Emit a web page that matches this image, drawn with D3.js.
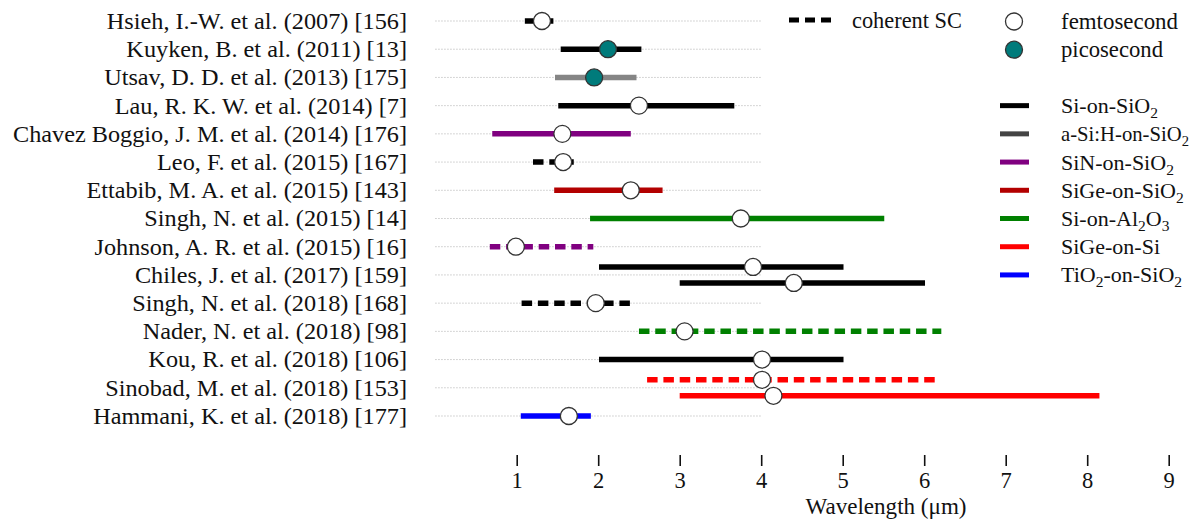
<!DOCTYPE html>
<html><head><meta charset="utf-8">
<script src="https://cdn.jsdelivr.net/npm/d3@7/dist/d3.min.js"></script>
<style>
html,body{margin:0;padding:0;background:#fff;}
svg{display:block;}
text{font-family:"Liberation Serif","DejaVu Serif",serif;fill:#111;}
</style></head>
<body>
<svg id="chart" width="1193" height="520"></svg>
<script>
// ---------------- data ----------------
const refs = [
  "Hsieh, I.-W. et al. (2007) [156]",
  "Kuyken, B. et al. (2011) [13]",
  "Utsav, D. D. et al. (2013) [175]",
  "Lau, R. K. W. et al. (2014) [7]",
  "Chavez Boggio, J. M. et al. (2014) [176]",
  "Leo, F. et al. (2015) [167]",
  "Ettabib, M. A. et al. (2015) [143]",
  "Singh, N. et al. (2015) [14]",
  "Johnson, A. R. et al. (2015) [16]",
  "Chiles, J. et al. (2017) [159]",
  "Singh, N. et al. (2018) [168]",
  "Nader, N. et al. (2018) [98]",
  "Kou, R. et al. (2018) [106]",
  "Sinobad, M. et al. (2018) [153]",
  "Hammani, K. et al. (2018) [177]"
];
// one entry per bar
const barRef      = [0, 1, 2, 3, 4, 5, 6, 7, 8, 9, 9, 10, 11, 12, 13, 13, 14];
const barLane     = [0, 0, 0, 0, 0, 0, 0, 0, 0, -1, 1, 0, 0, 0, -1, 1, 0];
const barStart    = [1.10, 1.54, 1.47, 1.51, 0.70, 1.20, 1.46, 1.90, 0.67, 2.01, 3.00, 1.06, 2.50, 2.01, 2.60, 3.00, 1.05];
const barEnd      = [1.45, 2.53, 2.47, 3.67, 2.40, 1.70, 2.79, 5.51, 1.94, 5.01, 6.01, 2.40, 6.21, 5.01, 6.14, 8.15, 1.91];
const barPump     = [1.31, 2.12, 1.95, 2.50, 1.56, 1.57, 2.40, 3.75, 0.99, 3.90, 4.40, 1.97, 3.06, 4.01, 4.01, 4.15, 1.64];
const barMaterial = ["Si", "Si", "aSi", "Si", "SiN", "Si", "SiGeOx", "SiAl", "SiN", "Si", "Si", "Si", "SiAl", "Si", "SiGeSi", "SiGeSi", "TiO2"];
const barPulse    = ["fs", "ps", "ps", "fs", "fs", "fs", "fs", "fs", "fs", "fs", "fs", "fs", "fs", "fs", "fs", "fs", "fs"];
const barCoherent = [false, false, false, false, false, true, false, false, true, false, false, true, true, false, true, false, false];

const materials     = ["Si", "aSi", "SiN", "SiGeOx", "SiAl", "SiGeSi", "TiO2"];
const materialColor = ["#000000", "#444444", "#800080", "#b30000", "#008000", "#ff0000", "#0000ff"];
const materialBarColor = ["#000000", "#858585", "#800080", "#b30000", "#008000", "#ff0000", "#0000ff"];
// legend labels: alternating normal / subscript parts
const materialLabel = [
  ["Si-on-SiO", "2"],
  ["a-Si:H-on-SiO", "2"],
  ["SiN-on-SiO", "2"],
  ["SiGe-on-SiO", "2"],
  ["Si-on-Al", "2", "O", "3"],
  ["SiGe-on-Si"],
  ["TiO", "2", "-on-SiO", "2"]
];
const xTicks = [1, 2, 3, 4, 5, 6, 7, 8, 9];
const xTitle = "Wavelength (\u03bcm)";
const gridRange = [0, 4];

// ---------------- drawing ----------------
const svg = d3.select("#chart");
const x = d3.scaleLinear().domain([1, 9]).range([516.7, 1168.7]);
const y = d3.scalePoint().domain(d3.range(refs.length)).range([21, 416]);
const laneOff = {"-1": -8, "0": 0, "1": 8};
const col = d3.scaleOrdinal().domain(materials).range(materialBarColor);
const legCol = d3.scaleOrdinal().domain(materials).range(materialColor);
const FS = 22.5;

function fitWidth(sel, k) {
  sel.each(function () {
    const cur = this.getComputedTextLength();
    d3.select(this).attr("textLength", cur * k).attr("lengthAdjust", "spacingAndGlyphs");
  });
}

// labels
const lab = svg.append("g").selectAll("text").data(refs).join("text")
  .attr("x", 407).attr("y", (d, i) => y(i)).attr("dy", "0.35em")
  .attr("text-anchor", "end").attr("font-size", FS).text(d => d);
const kx = 394 / lab.nodes()[4].getComputedTextLength();
fitWidth(lab, kx);

// dotted grid
svg.append("g").selectAll("line").data(refs).join("line")
  .attr("x1", x(gridRange[0])).attr("x2", x(gridRange[1]))
  .attr("y1", (d, i) => y(i)).attr("y2", (d, i) => y(i))
  .attr("stroke", "#c8c8c8").attr("stroke-width", 1).attr("stroke-dasharray", "1.5,1.5");

const idx = d3.range(barRef.length);
const by = i => y(barRef[i]) + laneOff[barLane[i]];
// bars
svg.append("g").selectAll("line").data(idx).join("line")
  .attr("x1", i => x(barStart[i])).attr("x2", i => x(barEnd[i]))
  .attr("y1", by).attr("y2", by)
  .attr("stroke", i => col(barMaterial[i])).attr("stroke-width", 5.5)
  .attr("stroke-dasharray", i => barCoherent[i] ? "10.5,5.8" : null);
// pump points
svg.append("g").selectAll("circle").data(idx).join("circle")
  .attr("cx", i => x(barPump[i])).attr("cy", by).attr("r", 8.5)
  .attr("fill", i => barPulse[i] === "ps" ? "#007b7b" : "#ffffff")
  .attr("stroke", "#333").attr("stroke-width", 1.3);

// axis
const ax = svg.append("g").attr("transform", "translate(0,455)")
  .call(d3.axisBottom(x).tickValues(xTicks).tickSize(11).tickPadding(6).tickFormat(d3.format("d")));
ax.select(".domain").remove();
ax.selectAll(".tick line").attr("stroke", "#111").attr("stroke-width", 1.6);
ax.selectAll(".tick text").attr("font-size", FS).attr("font-family", '"Liberation Serif",serif').attr("fill", "#111");
svg.append("text").attr("x", 886).attr("y", 514).attr("text-anchor", "middle")
  .attr("font-size", FS).attr("textLength", 161).attr("lengthAdjust", "spacingAndGlyphs").text(xTitle);

// legend: coherent SC
svg.append("line").attr("x1", 789).attr("x2", 831).attr("y1", 20).attr("y2", 20)
  .attr("stroke", "#000").attr("stroke-width", 5).attr("stroke-dasharray", "10,6");
svg.append("text").attr("x", 852).attr("y", 20).attr("dy", "0.35em").attr("font-size", FS)
  .attr("textLength", 110).attr("lengthAdjust", "spacingAndGlyphs").text("coherent SC");
// legend: pulse types
const pulses = [["femtosecond", "#ffffff", 117], ["picosecond", "#007b7b", 102]];
pulses.forEach((p, k) => {
  svg.append("circle").attr("cx", 1014).attr("cy", y(k) + 0.5).attr("r", 8.5)
    .attr("fill", p[1]).attr("stroke", "#333").attr("stroke-width", 1.3);
  svg.append("text").attr("x", 1061).attr("y", y(k)).attr("dy", "0.35em").attr("font-size", FS)
    .attr("textLength", p[2]).attr("lengthAdjust", "spacingAndGlyphs").text(p[0]);
});
// legend: materials
materials.forEach((m, k) => {
  const yy = y(k + 3);
  svg.append("line").attr("x1", 1000).attr("x2", 1029).attr("y1", yy).attr("y2", yy)
    .attr("stroke", legCol(m)).attr("stroke-width", 5);
  const t = svg.append("text").attr("x", 1061).attr("y", yy + 7.5).attr("font-size", 22);
  materialLabel[k].forEach((s, j) => {
    const ts = t.append("tspan").text(s);
    if (j % 2 === 1) ts.attr("font-size", 15.5).attr("dy", 5);
    else if (j > 0) ts.attr("dy", -5);
  });
  const w = t.node().getComputedTextLength();
  if (k === 1 && w > 128) {
    const s = 128 / w;
    t.attr("transform", `translate(1061,0) scale(${s},1) translate(-1061,0)`);
  }
});
</script>
</body></html>
